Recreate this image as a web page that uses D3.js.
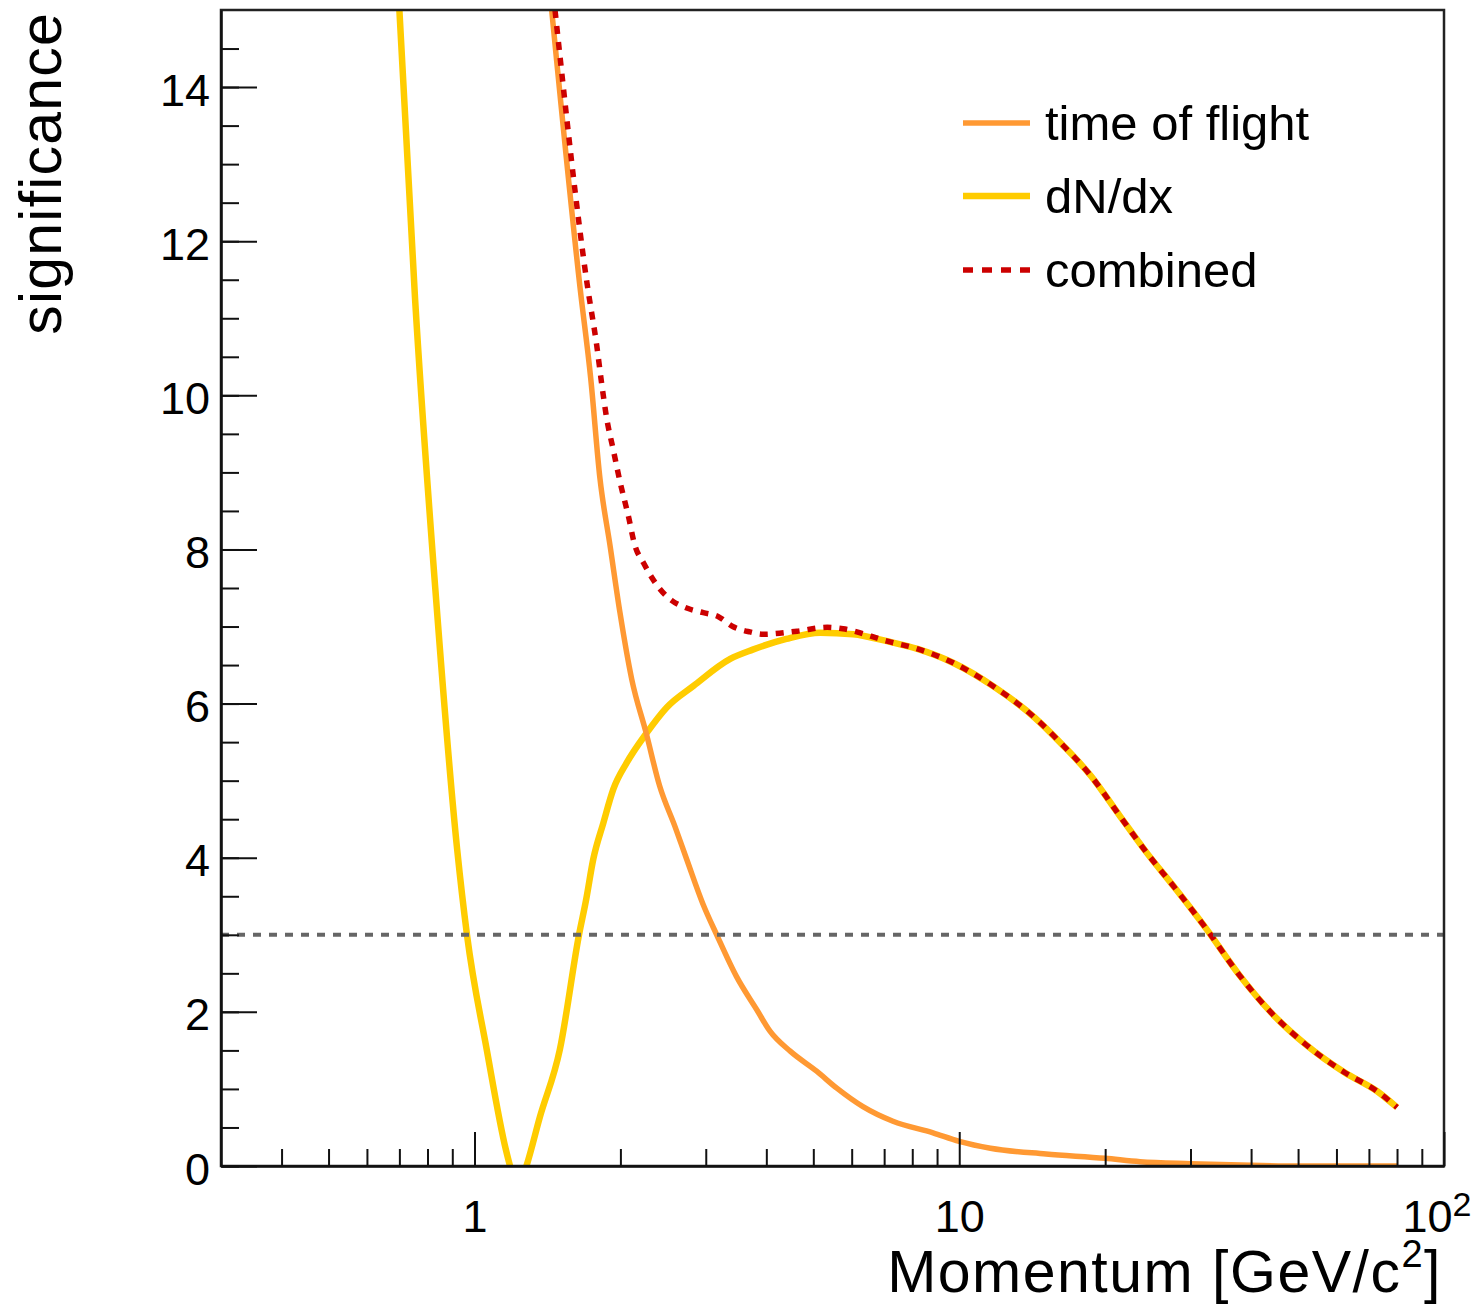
<!DOCTYPE html>
<html>
<head>
<script src="https://d3js.org/d3.v7.min.js"></script>
<style>
  body { margin: 0; background: #fff; }
  text { font-family: "Liberation Sans", Arial, Helvetica, sans-serif; }
</style>
</head>
<body>
<svg id="chart" width="1484" height="1308"></svg>
<script>
// ---- data ----
var tofMomentum = [1.443, 1.651, 1.737, 1.815, 1.904, 1.996, 2.11, 2.26, 2.41, 2.59, 2.74, 2.96, 3.16, 3.47, 3.82, 4.07, 4.48, 5.08, 5.59, 6.33, 7.30, 8.83, 10, 11.6, 15.1, 20, 23.6, 30, 40, 50, 80];
var tofSignif   = [15.0, 11.4, 10.22, 8.92, 8.05, 7.18, 6.32, 5.62, 4.93, 4.41, 3.98, 3.40, 3.0, 2.46, 2.03, 1.75, 1.49, 1.23, 1.01, 0.77, 0.58, 0.43, 0.32, 0.23, 0.156, 0.10, 0.056, 0.03, 0.01, 0.0, 0.0];

var dndxMomentum = [0.70, 0.754, 0.83, 0.921, 0.965, 1.06, 1.161, 1.184, 1.23, 1.28, 1.365, 1.50, 1.643, 1.70, 1.758, 1.844, 1.934, 2.06, 2.266, 2.492, 2.83, 3.37, 3.75, 4.4, 5.17, 6.04, 7.1, 8.2, 9.71, 11.85, 14.3, 16.3, 18.7, 21.4, 24.4, 28.0, 32.4, 37.8, 44, 52, 62.5, 72.8, 80];
var dndxSignif   = [15.0, 11.26, 7.5, 4.11, 3.0, 1.51, 0.21, 0.0, -0.3, 0.0, 0.64, 1.51, 3.0, 3.46, 3.98, 4.45, 4.89, 5.23, 5.62, 5.95, 6.23, 6.58, 6.70, 6.84, 6.92, 6.90, 6.81, 6.71, 6.53, 6.21, 5.82, 5.47, 5.06, 4.55, 4.06, 3.59, 3.07, 2.48, 1.99, 1.57, 1.21, 0.97, 0.76];

var combMomentum = [1.466, 1.709, 1.787, 1.83, 1.874, 1.934, 1.996, 2.076, 2.143, 2.23, 2.32, 2.41, 2.55, 2.74, 2.965, 3.18, 3.41, 3.70, 3.94, 4.63, 5.34, 5.76, 7.1, 8.2, 9.71, 11.85, 14.3, 16.3, 18.7, 21.4, 24.4, 28.0, 32.4, 37.8, 44, 52, 62.5, 72.8, 80];
var combSignif   = [15.0, 11.43, 10.65, 10.15, 9.70, 9.29, 8.88, 8.44, 8.05, 7.83, 7.64, 7.49, 7.34, 7.24, 7.18, 7.13, 7.0, 6.93, 6.90, 6.94, 6.99, 6.97, 6.81, 6.71, 6.53, 6.21, 5.82, 5.47, 5.06, 4.55, 4.06, 3.59, 3.07, 2.48, 1.99, 1.57, 1.21, 0.97, 0.76];

var threshold = 3;
var xMajor = [1, 10, 100];
var xMinor = [0.4, 0.5, 0.6, 0.7, 0.8, 0.9, 2, 3, 4, 5, 6, 7, 8, 9, 20, 30, 40, 50, 60, 70, 80, 90];
var yMajor = [0, 2, 4, 6, 8, 10, 12, 14];
var yMinor = d3.range(0, 15, 0.5);
var legendLabels = ["time of flight", "dN/dx", "combined"];

// ---- layout ----
var svg = d3.select("#chart");
var plotLeft = 221, plotRight = 1444, plotTop = 10, plotBottom = 1166;
var fontFam = "Liberation Sans, Arial, sans-serif";

var x = d3.scaleLog().domain([0.3, 100]).range([plotLeft, plotRight]);
var y = d3.scaleLinear().domain([0, 15]).range([plotBottom, plotTop]);

svg.append("rect").attr("width", 1484).attr("height", 1308).attr("fill", "#fff");

svg.append("clipPath").attr("id", "plotclip")
  .append("rect")
  .attr("x", plotLeft).attr("y", plotTop)
  .attr("width", plotRight - plotLeft).attr("height", plotBottom - plotTop);

var line = d3.line()
  .x(function(d) { return x(d[0]); })
  .y(function(d) { return y(d[1]); })
  .curve(d3.curveMonotoneX);

function drawCurve(ps, vs, color, width, dash) {
  var pts = ps.map(function(p, i) { return [p, vs[i]]; });
  var path = svg.append("path")
    .attr("clip-path", "url(#plotclip)")
    .attr("d", line(pts))
    .attr("fill", "none")
    .attr("stroke", color)
    .attr("stroke-width", width)
    .attr("stroke-linejoin", "round");
  if (dash) path.attr("stroke-dasharray", dash);
}

drawCurve(dndxMomentum, dndxSignif, "#ffcc00", 6.5);
drawCurve(tofMomentum, tofSignif, "#ff9933", 5.5);
drawCurve(combMomentum, combSignif, "#cc0000", 5.5, "8,8");

// threshold line
svg.append("line")
  .attr("x1", plotLeft).attr("x2", plotRight)
  .attr("y1", y(threshold)).attr("y2", y(threshold))
  .attr("stroke", "#666")
  .attr("stroke-width", 4)
  .attr("stroke-dasharray", "8,8");

// frame
svg.append("rect")
  .attr("x", plotLeft).attr("y", plotTop)
  .attr("width", plotRight - plotLeft).attr("height", plotBottom - plotTop)
  .attr("fill", "none")
  .attr("stroke", "#222")
  .attr("stroke-width", 2.5);

// x axis
svg.append("g")
  .attr("transform", "translate(0," + plotBottom + ")")
  .call(d3.axisBottom(x).tickValues(xMinor).tickSize(-17).tickSizeOuter(0).tickFormat(""))
  .call(function(g) { g.select(".domain").remove(); })
  .selectAll("line").attr("stroke", "#111").attr("stroke-width", 2);

var xg = svg.append("g")
  .attr("transform", "translate(0," + plotBottom + ")")
  .call(d3.axisBottom(x).tickValues(xMajor).tickSize(-34).tickSizeOuter(0).tickPadding(34)
    .tickFormat(function(d) { return d3.format("d")(d); }))
  .attr("font-size", 45)
  .attr("font-family", fontFam);
xg.select(".domain").attr("stroke", "#111").attr("stroke-width", 2.5);
xg.selectAll("line").attr("stroke", "#111").attr("stroke-width", 2);
xg.selectAll("text").attr("fill", "#000");
xg.selectAll(".tick text").filter(function(d) { return d === 100; })
  .text("10")
  .attr("text-anchor", "start")
  .attr("x", -42)
  .append("tspan").attr("font-size", 34).attr("dy", -16).text("2");

// y axis
svg.append("g")
  .attr("transform", "translate(" + plotLeft + ",0)")
  .call(d3.axisLeft(y).tickValues(yMinor).tickSize(-18).tickSizeOuter(0).tickFormat(""))
  .call(function(g) { g.select(".domain").remove(); })
  .selectAll("line").attr("stroke", "#111").attr("stroke-width", 2);

var yg = svg.append("g")
  .attr("transform", "translate(" + plotLeft + ",0)")
  .call(d3.axisLeft(y).tickValues(yMajor).tickSize(-36).tickSizeOuter(0).tickPadding(11))
  .attr("font-size", 45)
  .attr("font-family", fontFam);
yg.select(".domain").attr("stroke", "#111").attr("stroke-width", 2.5);
yg.selectAll("line").attr("stroke", "#111").attr("stroke-width", 2);
yg.selectAll("text").attr("fill", "#000").attr("dy", "0.4em");

// axis titles
var xt = svg.append("text")
  .attr("x", 1442).attr("y", 1292)
  .attr("text-anchor", "end")
  .attr("font-size", 59)
  .attr("letter-spacing", 1.5)
  .text("Momentum [GeV/c");
xt.append("tspan").attr("font-size", 38).attr("dy", -25).text("2");
xt.append("tspan").attr("dy", 25).text("]");

svg.append("text")
  .attr("transform", "translate(61,12) rotate(-90)")
  .attr("text-anchor", "end")
  .attr("font-size", 59)
  .attr("letter-spacing", 1.2)
  .text("significance");

// legend
var legendStyles = [
  { color: "#ff9933", width: 5.5, dash: null },
  { color: "#ffcc00", width: 6.5, dash: null },
  { color: "#cc0000", width: 5.5, dash: "10,9" }
];
var legendY = [123, 196, 270];
legendLabels.forEach(function(lab, i) {
  var s = legendStyles[i];
  var l = svg.append("line")
    .attr("x1", 963).attr("x2", 1030)
    .attr("y1", legendY[i]).attr("y2", legendY[i])
    .attr("stroke", s.color)
    .attr("stroke-width", s.width);
  if (s.dash) l.attr("stroke-dasharray", s.dash);
  svg.append("text")
    .attr("x", 1045).attr("y", legendY[i])
    .attr("dy", "0.35em")
    .attr("font-size", 49)
    .text(lab);
});
</script>
</body>
</html>
